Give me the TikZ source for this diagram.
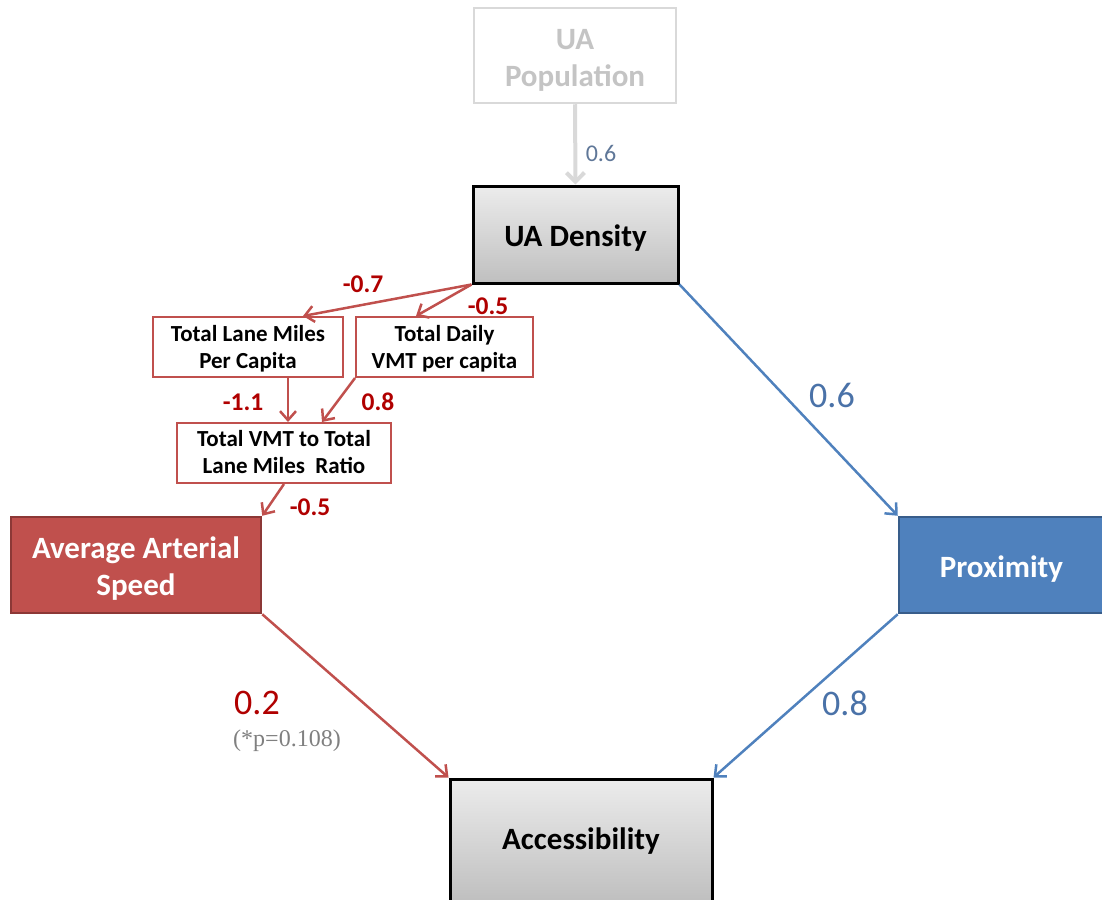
\documentclass[tikz,border=0pt]{standalone}
\usepackage{fontspec}
\setmainfont{Carlito}
\usetikzlibrary{arrows.meta,calc}
\definecolor{redline}{HTML}{C0504D}
\definecolor{redfill}{HTML}{C0504D}
\definecolor{redborder}{HTML}{8C3836}
\definecolor{bluefill}{HTML}{4F81BD}
\definecolor{blueborder}{HTML}{385D8A}
\definecolor{darkred}{HTML}{B00000}
\definecolor{bluelab}{HTML}{4A72A8}
\definecolor{popgray}{HTML}{D9D9D9}
\definecolor{poptext}{HTML}{C4C4C4}
\newcommand{\lowtxt}[2][4pt]{\raisebox{-#1}[\height][\depth]{\begin{tabular}{@{}c@{}}#2\end{tabular}}}
\tikzset{
  graybox/.style={draw=black,line width=3pt,top color=gray!15,bottom color=gray!50,inner sep=0pt,font=\bfseries\fontsize{31}{37}\selectfont},
  popbox/.style={draw=popgray,line width=2.5pt,fill=white,inner sep=0pt,text=poptext,font=\bfseries\fontsize{31}{37}\selectfont},
  smallbox/.style={draw=redline,line width=2pt,fill=white,inner sep=0pt,font=\bfseries\fontsize{23}{27}\selectfont},
  redbox/.style={draw=redborder,line width=2.5pt,fill=redfill,inner sep=0pt,text=white,font=\bfseries\fontsize{31}{37}\selectfont},
  bluebox/.style={draw=blueborder,line width=2.5pt,fill=bluefill,inner sep=0pt,text=white,font=\bfseries\fontsize{31}{37}\selectfont},
  redarrow/.style={draw=redline,line width=2.5pt,-{Straight Barb[length=9pt,width=16pt]}},
  bluearrow/.style={draw=bluefill,line width=2.5pt,-{Straight Barb[length=9pt,width=16pt]}},
  grayarrow/.style={draw=popgray,line width=4pt,-{Straight Barb[length=9pt,width=18pt]}},
  smalllab/.style={text=darkred,font=\bfseries\fontsize{25.5}{28}\selectfont,inner sep=0pt},
  biglab/.style={font=\fontsize{36}{40}\selectfont,inner sep=0pt},
}
\begin{document}
\begin{tikzpicture}[x=1pt,y=-1pt]
\useasboundingbox (0,0) rectangle (1102,899);
\node[popbox,minimum width=202pt,minimum height=95pt] (pop) at (575,55.5) {\lowtxt[5pt]{UA\\Population}};
\node[graybox,minimum width=205pt,minimum height=97pt] (dens) at (575.5,234.5) {\lowtxt[5pt]{UA Density}};
\node[smallbox,minimum width=190pt,minimum height=60pt] (lane) at (248,347) {\lowtxt[3pt]{Total Lane Miles\\Per Capita}};
\node[smallbox,minimum width=177pt,minimum height=60pt] (vmt) at (444.5,347) {\lowtxt[3pt]{Total Daily\\VMT per capita}};
\node[smallbox,minimum width=214pt,minimum height=60pt] (ratio) at (284,453) {\lowtxt[2pt]{Total VMT to Total\\Lane Miles\ \ Ratio}};
\node[redbox,minimum width=250pt,minimum height=96pt] (speed) at (136,565) {\lowtxt[4.5pt]{Average Arterial\\Speed}};
\node[bluebox,minimum width=205pt,minimum height=96pt] (prox) at (1001.5,565) {\lowtxt[5pt]{Proximity}};
\node[graybox,minimum width=262pt,minimum height=122pt] (acc) at (581,840) {\lowtxt[2pt]{Accessibility}};

\draw[grayarrow] (pop.south) -- (dens.north);
\draw[redarrow] (dens.south west) -- ([xshift=55pt]lane.north);
\draw[redarrow] (dens.south west) -- ([xshift=-28.5pt]vmt.north);
\draw[redarrow] ([xshift=40pt]lane.south) -- ([xshift=4pt]ratio.north);
\draw[redarrow] (vmt.south west) -- ([xshift=38pt]ratio.north);
\draw[redarrow] (ratio.south) -- (speed.north east);
\draw[bluearrow] (dens.south east) -- (prox.north west);
\draw[redarrow] (speed.south east) -- (acc.north west);
\draw[bluearrow] (prox.south west) -- (acc.north east);

\node[text=bluelab!60!gray,font=\fontsize{24}{26}\selectfont,inner sep=0pt] (l0) at (601,153) {0.6};
\node[smalllab] (l1) at (363,284) {-0.7};
\node[smalllab] (l2) at (488,306) {-0.5};
\node[smalllab] (l3) at (243,402) {-1.1};
\node[smalllab] (l4) at (378,402) {0.8};
\node[smalllab] (l5) at (310,507) {-0.5};
\node[biglab,text=bluelab] (l6) at (832,395) {0.6};
\node[biglab,text=bluelab] (l7) at (845,703) {0.8};
\node[biglab,text=darkred] (l8) at (257,703) {0.2};
\node[text=gray,font=\fontsize{24}{26}\selectfont,inner sep=0pt] (l9) at (287,741) {\fontspec{Liberation Serif}(*p=0.108)};
\end{tikzpicture}
\end{document}
